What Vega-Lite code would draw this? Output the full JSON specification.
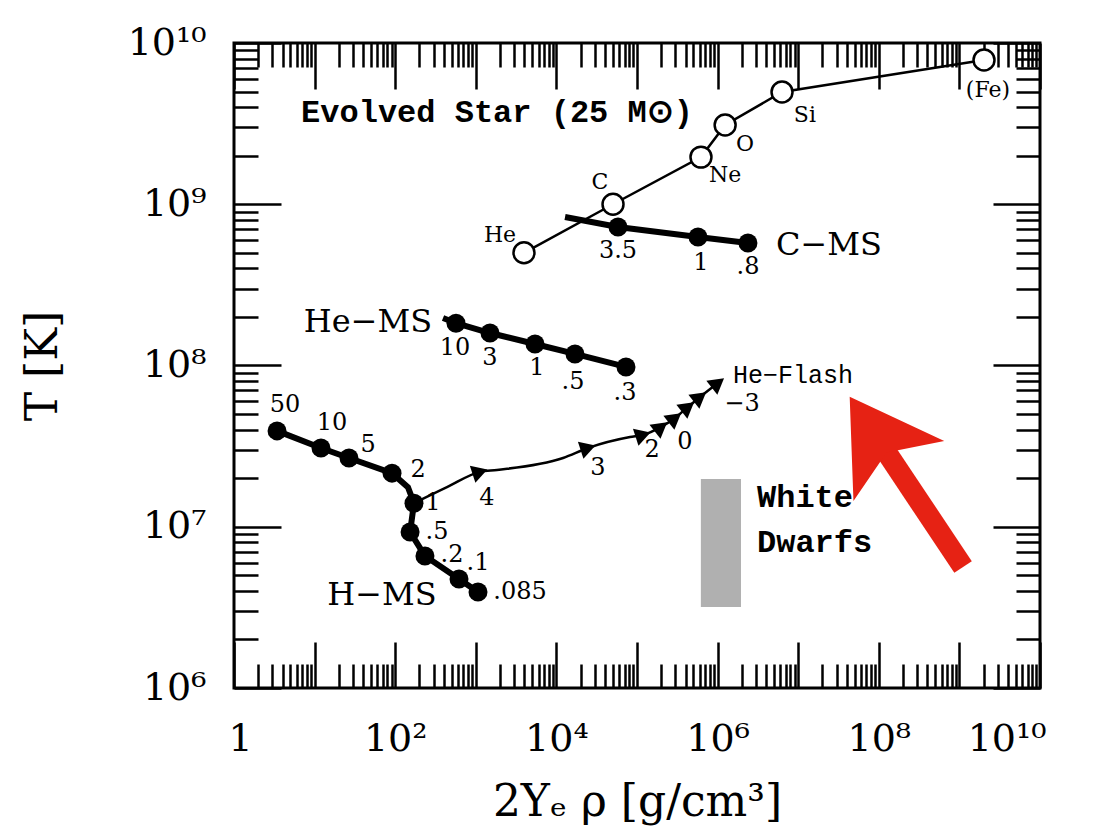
{
  "$schema": "https://vega.github.io/schema/vega-lite/v6.json",
  "width": 806,
  "height": 645,
  "autosize": "none",
  "padding": {"left": 234, "top": 43, "right": 55, "bottom": 149},
  "background": "white",
  "config": {
    "view": {"stroke": "black", "strokeWidth": 3},
    "axis": {"grid": false, "domain": false, "tickColor": "black", "tickWidth": 2.5, "labelFont": "DejaVu Serif", "labelFontSize": 38, "labelColor": "black", "titleFont": "DejaVu Serif", "titleFontSize": 44, "titleFontWeight": "normal", "titleColor": "black", "labelOverlap": false},
    "text": {"font": "DejaVu Serif", "color": "black"}
  },
  "resolve": {"axis": {"x": "independent", "y": "independent"}},
  "datasets": {
    "wd": [{"x1": 620000, "x2": 1950000, "y1": 3180000, "y2": 19800000}],
    "tracks": [
      {"t": "H", "i": 1, "x": 3.42, "y": 39300000, "dot": 1},
      {"t": "H", "i": 2, "x": 12.0, "y": 30800000, "dot": 1},
      {"t": "H", "i": 3, "x": 26.7, "y": 26700000, "dot": 1},
      {"t": "H", "i": 4, "x": 91.3, "y": 21500000, "dot": 1},
      {"t": "H", "i": 5, "x": 144, "y": 17600000, "dot": 0},
      {"t": "H", "i": 6, "x": 171, "y": 14000000, "dot": 1},
      {"t": "H", "i": 7, "x": 153, "y": 9280000, "dot": 1},
      {"t": "H", "i": 8, "x": 234, "y": 6590000, "dot": 1},
      {"t": "H", "i": 9, "x": 619, "y": 4740000, "dot": 1},
      {"t": "H", "i": 10, "x": 1065, "y": 3940000, "dot": 1},
      {"t": "He", "i": 0, "x": 392, "y": 197000000, "dot": 0},
      {"t": "He", "i": 1, "x": 568, "y": 183000000, "dot": 1},
      {"t": "He", "i": 2, "x": 1500, "y": 159000000, "dot": 1},
      {"t": "He", "i": 3, "x": 5430, "y": 136000000, "dot": 1},
      {"t": "He", "i": 4, "x": 17000, "y": 118000000, "dot": 1},
      {"t": "He", "i": 5, "x": 73000, "y": 98000000, "dot": 1},
      {"t": "C", "i": 0, "x": 12800, "y": 834000000, "dot": 0},
      {"t": "C", "i": 1, "x": 58100, "y": 723000000, "dot": 1},
      {"t": "C", "i": 2, "x": 571000, "y": 627000000, "dot": 1},
      {"t": "C", "i": 3, "x": 2380000, "y": 575000000, "dot": 1}
    ],
    "evolved": [
      {"stage": "He", "i": 0, "x": 3960, "y": 500000000},
      {"stage": "C", "i": 1, "x": 50400, "y": 1000000000},
      {"stage": "Ne", "i": 2, "x": 622000, "y": 1960000000},
      {"stage": "O", "i": 3, "x": 1240000, "y": 3100000000},
      {"stage": "Si", "i": 4, "x": 6300000, "y": 4970000000},
      {"stage": "Fe", "i": 5, "x": 2020000000, "y": 7850000000}
    ],
    "flash": [
      {"i": 0, "x": 171, "y": 14000000, "arrow": "none"},
      {"i": 1, "x": 439, "y": 17600000, "arrow": "none"},
      {"i": 2, "x": 1127, "y": 21900000, "arrow": "flat"},
      {"i": 3, "x": 1832, "y": 22500000, "arrow": "none"},
      {"i": 4, "x": 12100, "y": 26700000, "arrow": "none"},
      {"i": 5, "x": 24700, "y": 30800000, "arrow": "flat"},
      {"i": 6, "x": 81900, "y": 36000000, "arrow": "none"},
      {"i": 7, "x": 119000, "y": 37100000, "arrow": "flat"},
      {"i": 8, "x": 199000, "y": 41600000, "arrow": "steep"},
      {"i": 9, "x": 296000, "y": 47300000, "arrow": "steep"},
      {"i": 10, "x": 429000, "y": 55300000, "arrow": "steep"},
      {"i": 11, "x": 605000, "y": 63800000, "arrow": "steep"},
      {"i": 12, "x": 1010000, "y": 77900000, "arrow": "steep"}
    ],
    "labels": [
      {"kind": "num", "text": "50", "x": 4.29, "y": 56900000},
      {"kind": "num", "text": "10", "x": 16.4, "y": 44000000},
      {"kind": "num", "text": "5", "x": 46.0, "y": 32100000},
      {"kind": "num", "text": "2", "x": 192, "y": 22500000},
      {"kind": "num", "text": "1", "x": 294, "y": 14000000},
      {"kind": "num", "text": ".5", "x": 330, "y": 9280000},
      {"kind": "num", "text": ".2", "x": 507, "y": 6680000},
      {"kind": "num", "text": ".1", "x": 1065, "y": 5960000},
      {"kind": "num", "text": ".085", "x": 3535, "y": 3940000},
      {"kind": "num", "text": "4", "x": 1377, "y": 15100000},
      {"kind": "num", "text": "3", "x": 32800, "y": 23100000},
      {"kind": "num", "text": "2", "x": 154000, "y": 29900000},
      {"kind": "num", "text": "0", "x": 394000, "y": 33500000},
      {"kind": "num", "text": "−3", "x": 2010000, "y": 57700000},
      {"kind": "num", "text": "10", "x": 552, "y": 128000000},
      {"kind": "num", "text": "3", "x": 1500, "y": 111000000},
      {"kind": "num", "text": "1", "x": 5745, "y": 96500000},
      {"kind": "num", "text": ".5", "x": 16100, "y": 79000000},
      {"kind": "num", "text": ".3", "x": 71000, "y": 67500000},
      {"kind": "num", "text": "3.5", "x": 58100, "y": 513000000},
      {"kind": "num", "text": "1", "x": 622000, "y": 432000000},
      {"kind": "num", "text": ".8", "x": 2380000, "y": 408000000},
      {"kind": "elem", "text": "He", "x": 1996, "y": 645000000},
      {"kind": "elem", "text": "C", "x": 34700, "y": 1370000000},
      {"kind": "elem", "text": "Ne", "x": 1240000, "y": 1520000000},
      {"kind": "elem", "text": "O", "x": 2190000, "y": 2360000000},
      {"kind": "elem", "text": "Si", "x": 12100000, "y": 3580000000},
      {"kind": "elem", "text": "(Fe)", "x": 2260000000, "y": 5110000000},
      {"kind": "name", "text": "H−MS", "x": 68.6, "y": 3770000},
      {"kind": "name", "text": "He−MS", "x": 46.0, "y": 186000000},
      {"kind": "name", "text": "C−MS", "x": 24100000, "y": 559000000},
      {"kind": "title", "text": "Evolved Star (25 M⊙)", "x": 1832, "y": 3730000000},
      {"kind": "note", "text": "White", "x": 3080000, "y": 15300000},
      {"kind": "note", "text": "Dwarfs", "x": 3080000, "y": 8040000},
      {"kind": "flashlabel", "text": "He−Flash", "x": 1550000, "y": 87300000}
    ],
    "redarrow": [
      {"part": "shaft", "i": 0, "x": 95000000, "y": 35500000},
      {"part": "shaft", "i": 1, "x": 1110000000, "y": 5630000},
      {"part": "head", "i": 0, "x": 95000000, "y": 35500000}
    ]
  },
  "layer": [
    {
      "data": {"name": "wd"},
      "mark": {"type": "rect", "color": "#b0b0b0"},
      "encoding": {
        "x": {"field": "x1", "type": "quantitative", "scale": {"type": "log", "domain": [1, 10000000000], "nice": false},
          "axis": {"orient": "bottom", "values": [1, 10, 100, 1000, 10000, 100000, 1000000, 10000000, 100000000, 1000000000, 10000000000], "tickSize": -46, "labelPadding": 78, "labelFlush": true, "labelFlushOffset": 6, "labelExpr": "['1','','10²','','10⁴','','10⁶','','10⁸','','10¹⁰'][round(log(datum.value)/LN10)]", "title": "2Yₑ ρ  [g/cm³]", "titlePadding": 22}},
        "x2": {"field": "x2"},
        "y": {"field": "y1", "type": "quantitative", "scale": {"type": "log", "domain": [1000000, 10000000000], "nice": false},
          "axis": {"orient": "left", "values": [1000000, 10000000, 100000000, 1000000000, 10000000000], "tickSize": -47, "labelPadding": 75, "labelFlush": false, "labelExpr": "['10⁶','10⁷','10⁸','10⁹','10¹⁰'][round(log(datum.value)/LN10)-6]", "title": "T [K]", "titlePadding": 62}},
        "y2": {"field": "y2"}
      }
    },
    {
      "data": {"name": "evolved"},
      "mark": {"type": "line", "color": "black", "strokeWidth": 2.5},
      "encoding": {
        "x": {"field": "x", "type": "quantitative", "scale": {"type": "log", "domain": [1, 10000000000], "nice": false},
          "axis": {"orient": "bottom", "values": [2,3,4,5,6,7,8,9,20,30,40,50,60,70,80,90,200,300,400,500,600,700,800,900,2000,3000,4000,5000,6000,7000,8000,9000,20000,30000,40000,50000,60000,70000,80000,90000,2e5,3e5,4e5,5e5,6e5,7e5,8e5,9e5,2e6,3e6,4e6,5e6,6e6,7e6,8e6,9e6,2e7,3e7,4e7,5e7,6e7,7e7,8e7,9e7,2e8,3e8,4e8,5e8,6e8,7e8,8e8,9e8,2e9,3e9,4e9,5e9,6e9,7e9,8e9,9e9], "tickSize": -24, "labels": false, "title": null}},
        "y": {"field": "y", "type": "quantitative", "scale": {"type": "log", "domain": [1000000, 10000000000], "nice": false},
          "axis": {"orient": "left", "values": [2e6,3e6,4e6,5e6,6e6,7e6,8e6,9e6,2e7,3e7,4e7,5e7,6e7,7e7,8e7,9e7,2e8,3e8,4e8,5e8,6e8,7e8,8e8,9e8,2e9,3e9,4e9,5e9,6e9,7e9,8e9,9e9], "tickSize": -24, "labels": false, "title": null}},
        "order": {"field": "i"}
      }
    },
    {
      "data": {"name": "flash"},
      "mark": {"type": "line", "color": "black", "strokeWidth": 2.5, "interpolate": "monotone"},
      "encoding": {
        "x": {"field": "x", "type": "quantitative", "scale": {"type": "log", "domain": [1, 10000000000], "nice": false},
          "axis": {"orient": "top", "values": [1, 10, 100, 1000, 10000, 100000, 1000000, 10000000, 100000000, 1000000000, 10000000000], "tickSize": -46, "labels": false, "title": null}},
        "y": {"field": "y", "type": "quantitative", "scale": {"type": "log", "domain": [1000000, 10000000000], "nice": false},
          "axis": {"orient": "right", "values": [1000000, 10000000, 100000000, 1000000000, 10000000000], "tickSize": -47, "labels": false, "title": null}},
        "order": {"field": "i"}
      }
    },
    {
      "data": {"name": "tracks"},
      "mark": {"type": "line", "color": "black", "strokeWidth": 6},
      "encoding": {
        "x": {"field": "x", "type": "quantitative", "scale": {"type": "log", "domain": [1, 10000000000], "nice": false},
          "axis": {"orient": "top", "values": [2,3,4,5,6,7,8,9,20,30,40,50,60,70,80,90,200,300,400,500,600,700,800,900,2000,3000,4000,5000,6000,7000,8000,9000,20000,30000,40000,50000,60000,70000,80000,90000,2e5,3e5,4e5,5e5,6e5,7e5,8e5,9e5,2e6,3e6,4e6,5e6,6e6,7e6,8e6,9e6,2e7,3e7,4e7,5e7,6e7,7e7,8e7,9e7,2e8,3e8,4e8,5e8,6e8,7e8,8e8,9e8,2e9,3e9,4e9,5e9,6e9,7e9,8e9,9e9], "tickSize": -24, "labels": false, "title": null}},
        "y": {"field": "y", "type": "quantitative", "scale": {"type": "log", "domain": [1000000, 10000000000], "nice": false},
          "axis": {"orient": "right", "values": [2e6,3e6,4e6,5e6,6e6,7e6,8e6,9e6,2e7,3e7,4e7,5e7,6e7,7e7,8e7,9e7,2e8,3e8,4e8,5e8,6e8,7e8,8e8,9e8,2e9,3e9,4e9,5e9,6e9,7e9,8e9,9e9], "tickSize": -24, "labels": false, "title": null}},
        "detail": {"field": "t"},
        "order": {"field": "i"}
      }
    },
    {
      "data": {"name": "tracks"},
      "transform": [{"filter": "datum.dot == 1"}],
      "mark": {"type": "circle", "color": "black", "opacity": 1, "size": 361},
      "encoding": {
        "x": {"field": "x", "type": "quantitative", "scale": {"type": "log", "domain": [1, 10000000000], "nice": false}, "axis": null},
        "y": {"field": "y", "type": "quantitative", "scale": {"type": "log", "domain": [1000000, 10000000000], "nice": false}, "axis": null}
      }
    },
    {
      "data": {"name": "evolved"},
      "mark": {"type": "point", "shape": "circle", "filled": true, "fill": "white", "stroke": "black", "strokeWidth": 2.5, "opacity": 1, "size": 440},
      "encoding": {
        "x": {"field": "x", "type": "quantitative", "scale": {"type": "log", "domain": [1, 10000000000], "nice": false}, "axis": null},
        "y": {"field": "y", "type": "quantitative", "scale": {"type": "log", "domain": [1000000, 10000000000], "nice": false}, "axis": null}
      }
    },
    {
      "data": {"name": "flash"},
      "transform": [{"filter": "datum.arrow == 'flat'"}],
      "mark": {"type": "point", "shape": "triangle-right", "filled": true, "color": "black", "opacity": 1, "size": 320, "angle": -18},
      "encoding": {
        "x": {"field": "x", "type": "quantitative", "scale": {"type": "log", "domain": [1, 10000000000], "nice": false}, "axis": null},
        "y": {"field": "y", "type": "quantitative", "scale": {"type": "log", "domain": [1000000, 10000000000], "nice": false}, "axis": null}
      }
    },
    {
      "data": {"name": "flash"},
      "transform": [{"filter": "datum.arrow == 'steep'"}],
      "mark": {"type": "point", "shape": "triangle-right", "filled": true, "color": "black", "opacity": 1, "size": 320, "angle": -38},
      "encoding": {
        "x": {"field": "x", "type": "quantitative", "scale": {"type": "log", "domain": [1, 10000000000], "nice": false}, "axis": null},
        "y": {"field": "y", "type": "quantitative", "scale": {"type": "log", "domain": [1000000, 10000000000], "nice": false}, "axis": null}
      }
    },
    {
      "data": {"name": "labels"},
      "transform": [{"filter": "datum.kind == 'num'"}],
      "mark": {"type": "text", "fontSize": 24, "align": "center", "baseline": "middle"},
      "encoding": {
        "x": {"field": "x", "type": "quantitative", "scale": {"type": "log", "domain": [1, 10000000000], "nice": false}, "axis": null},
        "y": {"field": "y", "type": "quantitative", "scale": {"type": "log", "domain": [1000000, 10000000000], "nice": false}, "axis": null},
        "text": {"field": "text"}
      }
    },
    {
      "data": {"name": "labels"},
      "transform": [{"filter": "datum.kind == 'elem'"}],
      "mark": {"type": "text", "fontSize": 22, "align": "center", "baseline": "middle"},
      "encoding": {
        "x": {"field": "x", "type": "quantitative", "scale": {"type": "log", "domain": [1, 10000000000], "nice": false}, "axis": null},
        "y": {"field": "y", "type": "quantitative", "scale": {"type": "log", "domain": [1000000, 10000000000], "nice": false}, "axis": null},
        "text": {"field": "text"}
      }
    },
    {
      "data": {"name": "labels"},
      "transform": [{"filter": "datum.kind == 'name'"}],
      "mark": {"type": "text", "fontSize": 32, "align": "center", "baseline": "middle"},
      "encoding": {
        "x": {"field": "x", "type": "quantitative", "scale": {"type": "log", "domain": [1, 10000000000], "nice": false}, "axis": null},
        "y": {"field": "y", "type": "quantitative", "scale": {"type": "log", "domain": [1000000, 10000000000], "nice": false}, "axis": null},
        "text": {"field": "text"}
      }
    },
    {
      "data": {"name": "labels"},
      "transform": [{"filter": "datum.kind == 'title'"}],
      "mark": {"type": "text", "fontSize": 32, "align": "center", "baseline": "middle", "font": "Liberation Mono", "fontWeight": "bold"},
      "encoding": {
        "x": {"field": "x", "type": "quantitative", "scale": {"type": "log", "domain": [1, 10000000000], "nice": false}, "axis": null},
        "y": {"field": "y", "type": "quantitative", "scale": {"type": "log", "domain": [1000000, 10000000000], "nice": false}, "axis": null},
        "text": {"field": "text"}
      }
    },
    {
      "data": {"name": "labels"},
      "transform": [{"filter": "datum.kind == 'note'"}],
      "mark": {"type": "text", "fontSize": 32, "align": "left", "baseline": "middle", "font": "Liberation Mono", "fontWeight": "bold"},
      "encoding": {
        "x": {"field": "x", "type": "quantitative", "scale": {"type": "log", "domain": [1, 10000000000], "nice": false}, "axis": null},
        "y": {"field": "y", "type": "quantitative", "scale": {"type": "log", "domain": [1000000, 10000000000], "nice": false}, "axis": null},
        "text": {"field": "text"}
      }
    },
    {
      "data": {"name": "labels"},
      "transform": [{"filter": "datum.kind == 'flashlabel'"}],
      "mark": {"type": "text", "fontSize": 25, "align": "left", "baseline": "middle", "font": "Liberation Mono"},
      "encoding": {
        "x": {"field": "x", "type": "quantitative", "scale": {"type": "log", "domain": [1, 10000000000], "nice": false}, "axis": null},
        "y": {"field": "y", "type": "quantitative", "scale": {"type": "log", "domain": [1000000, 10000000000], "nice": false}, "axis": null},
        "text": {"field": "text"}
      }
    },
    {
      "data": {"name": "redarrow"},
      "transform": [{"filter": "datum.part == 'shaft'"}],
      "mark": {"type": "line", "color": "#e62214", "strokeWidth": 21},
      "encoding": {
        "x": {"field": "x", "type": "quantitative", "scale": {"type": "log", "domain": [1, 10000000000], "nice": false}, "axis": null},
        "y": {"field": "y", "type": "quantitative", "scale": {"type": "log", "domain": [1000000, 10000000000], "nice": false}, "axis": null},
        "order": {"field": "i"}
      }
    },
    {
      "data": {"name": "redarrow"},
      "transform": [{"filter": "datum.part == 'head'"}],
      "mark": {"type": "point", "shape": "M0,-1L1.1,0.8L0,0.35L-1.1,0.8Z", "filled": true, "color": "#e62214", "opacity": 1, "size": 9800, "angle": -33.5},
      "encoding": {
        "x": {"field": "x", "type": "quantitative", "scale": {"type": "log", "domain": [1, 10000000000], "nice": false}, "axis": null},
        "y": {"field": "y", "type": "quantitative", "scale": {"type": "log", "domain": [1000000, 10000000000], "nice": false}, "axis": null}
      }
    }
  ]
}
